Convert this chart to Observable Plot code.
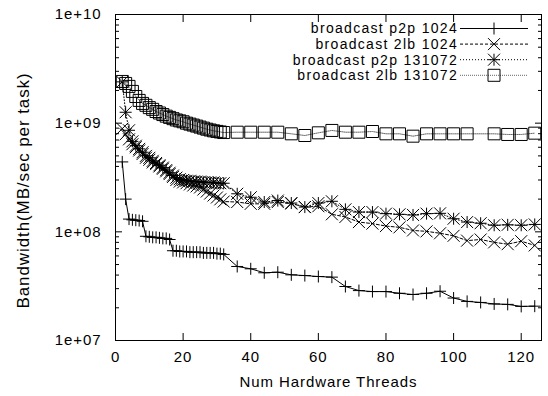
<!DOCTYPE html>
<html><head><meta charset="utf-8">
<script src="https://cdn.jsdelivr.net/npm/d3@7"></script>
<script src="https://cdn.jsdelivr.net/npm/@observablehq/plot@0.6"></script>
<style>
html,body{margin:0;padding:0;background:#fff;}
#chart{position:relative;width:548px;height:396px;}
</style></head><body><div id="chart"></div>
<script>
// ---- data ----
const threads = [2,3,4,5,6,7,8,9,10,11,12,13,14,15,16,17,18,19,20,21,22,23,24,25,26,27,28,29,30,31,32,
  36,40,44,48,52,56,60,64,68,72,76,80,84,88,92,96,100,104,108,112,116,120,124];
const p2p1024 = [4.4e8,2.0e8,1.31e8,1.29e8,1.28e8,1.27e8,1.25e8,9.1e7,9.0e7,8.9e7,8.9e7,8.8e7,8.7e7,8.7e7,8.5e7,6.7e7,6.7e7,6.6e7,6.6e7,6.6e7,6.5e7,6.5e7,6.5e7,6.5e7,6.4e7,6.4e7,6.4e7,6.4e7,6.3e7,6.3e7,6.2e7,
  4.8e7,4.57e7,4.2e7,4.25e7,4.02e7,3.96e7,3.88e7,3.83e7,3.14e7,2.88e7,2.82e7,2.82e7,2.72e7,2.65e7,2.72e7,2.84e7,2.46e7,2.29e7,2.24e7,2.17e7,2.15e7,2.06e7,2.07e7];
const lb1024 = [8.9e8,7.9e8,7.1e8,6.4e8,6.0e8,5.6e8,5.2e8,4.8e8,4.6e8,4.35e8,4.2e8,4.0e8,3.8e8,3.6e8,3.4e8,3.2e8,3.0e8,2.9e8,2.85e8,2.8e8,2.73e8,2.67e8,2.62e8,2.56e8,2.45e8,2.35e8,2.25e8,2.16e8,2.07e8,1.99e8,1.9e8,
  1.88e8,1.81e8,1.81e8,1.88e8,1.82e8,1.69e8,1.72e8,1.45e8,1.37e8,1.23e8,1.19e8,1.13e8,1.10e8,1.03e8,1.01e8,9.7e7,9.2e7,8.3e7,8.5e7,8.0e7,7.7e7,8.2e7,7.5e7];
const p2p131072 = [2.4e9,1.26e9,8.6e8,6.8e8,6.2e8,5.8e8,5.4e8,5.0e8,4.8e8,4.5e8,4.3e8,4.1e8,3.9e8,3.7e8,3.5e8,3.3e8,3.15e8,3.05e8,3.0e8,2.95e8,2.95e8,2.9e8,2.9e8,2.9e8,2.85e8,2.85e8,2.85e8,2.85e8,2.8e8,2.8e8,2.8e8,
  2.24e8,2.08e8,1.88e8,1.94e8,1.84e8,1.69e8,1.84e8,1.91e8,1.61e8,1.52e8,1.52e8,1.47e8,1.45e8,1.43e8,1.47e8,1.48e8,1.32e8,1.23e8,1.20e8,1.15e8,1.16e8,1.15e8,1.17e8];
const lb131072 = [2.42e9,2.32e9,2.18e9,1.96e9,1.76e9,1.62e9,1.52e9,1.46e9,1.39e9,1.34e9,1.28e9,1.24e9,1.20e9,1.16e9,1.13e9,1.10e9,1.07e9,1.05e9,1.03e9,1.0e9,9.8e8,9.6e8,9.4e8,9.2e8,9.0e8,8.8e8,8.65e8,8.5e8,8.4e8,8.3e8,8.2e8,
  8.26e8,8.26e8,8.26e8,8.26e8,7.98e8,7.70e8,8.15e8,8.57e8,8.26e8,8.26e8,8.38e8,7.98e8,7.98e8,7.59e8,7.98e8,7.98e8,7.98e8,7.98e8,null,7.98e8,7.87e8,7.87e8,8.09e8];
const seriesNames = ["broadcast p2p 1024","broadcast 2lb 1024","broadcast p2p 131072","broadcast 2lb 131072"];
const xTicks = [0,20,40,60,80,100,120];
const yTicks = [1e7,1e8,1e9,1e10];
const yTickLabels = ["1e+07","1e+08","1e+09","1e+10"];
const xTitle = "Num Hardware Threads";
const yTitle = "Bandwidth(MB/sec per task)";

// ---- styles ----
const S = 6;
const symPlus = {draw(c){c.moveTo(-S,0);c.lineTo(S,0);c.moveTo(0,-S);c.lineTo(0,S);}};
const symTimes = {draw(c){c.moveTo(-S,-S);c.lineTo(S,S);c.moveTo(-S,S);c.lineTo(S,-S);}};
const symStar = {draw(c){c.moveTo(-S,0);c.lineTo(S,0);c.moveTo(0,-S);c.lineTo(0,S);c.moveTo(-S,-S);c.lineTo(S,S);c.moveTo(-S,S);c.lineTo(S,-S);}};
const symSquare = {draw(c){c.rect(-S,-S,2*S,2*S);}};
const symbols = [symPlus, symTimes, symStar, symSquare];
const dashes = [null, "3,2", "1,2", "1,1"];
const lineColors = ["#000","#000","#000","#666"];

const allValues = [p2p1024, lb1024, p2p131072, lb131072];
const series = allValues.map((vals) =>
  threads.map((t, i) => ({x: t, y: vals[i]})).filter(d => d.y != null));

const yMinor = [];
for (let e = 7; e < 10; e++) for (let m = 2; m <= 9; m++) yMinor.push(m * Math.pow(10, e));

const font = '"Liberation Sans", Arial, sans-serif';
const marks = [
  Plot.axisX(xTicks, {anchor:"bottom", tickSize:7, dy:-7, fill:"none", label:null}),
  Plot.axisX(xTicks, {anchor:"top", tickSize:7, dy:7, fill:"none", label:null}),
  Plot.axisY(yTicks, {anchor:"left", tickSize:7, dx:7, fill:"none", label:null}),
  Plot.axisY(yTicks, {anchor:"right", tickSize:7, dx:-7, fill:"none", label:null}),
  Plot.axisY(yMinor, {anchor:"left", tickSize:4, dx:4, fill:"none", label:null}),
  Plot.axisY(yMinor, {anchor:"right", tickSize:4, dx:-4, fill:"none", label:null}),
  Plot.axisX(xTicks, {anchor:"bottom", tickSize:0, tickPadding:11, label:null, tickFormat: d => String(d)}),
  Plot.axisY(yTicks, {anchor:"left", tickSize:0, tickPadding:14, label:null, tickFormat: d => yTickLabels[yTicks.indexOf(d)]}),
  Plot.text([xTitle], {text: d => d, frameAnchor:"bottom", dy:46}),
  Plot.text([yTitle], {text: d => d, frameAnchor:"left", textAnchor:"middle", dx:-92, dy:13, rotate:-90, fontSize:17}),
];
series.forEach((rows, k) => {
  marks.push(Plot.line(rows, {x:"x", y:"y", stroke:lineColors[k], strokeWidth:1, strokeDasharray: dashes[k]}));
  marks.push(Plot.dot(rows, {x:"x", y:"y", symbol: symbols[k], stroke:"#000", fill:"none", strokeWidth:1}));
});
marks.push(Plot.frame({stroke:"#000", strokeWidth:1}));

const chart = Plot.plot({
  width: 548, height: 396,
  marginLeft: 115, marginRight: 7, marginTop: 14, marginBottom: 56,
  style: {fontFamily: font, fontSize: "15px", letterSpacing: "0.9px", background: "#fff", color: "#000"},
  x: {domain: [0, 126]},
  y: {type: "log", domain: [1e7, 1e10]},
  marks
});
document.getElementById("chart").appendChild(chart);

// ---- key (legend) inside the frame, top right ----
const svg = d3.select(chart);
const key = svg.append("g").attr("font-family", font).attr("font-size", 14)
  .style("letter-spacing", "1.3px");
seriesNames.forEach((name, k) => {
  const y = 28.5 + 15.6 * k;
  key.append("text").attr("x", 458).attr("y", y).attr("text-anchor", "end")
     .attr("dy", "0.35em").attr("fill", "#000").text(name);
  key.append("line").attr("x1", 460).attr("x2", 528).attr("y1", y).attr("y2", y)
     .attr("stroke", lineColors[k]).attr("stroke-width", 1)
     .attr("stroke-dasharray", dashes[k]);
  const p = d3.path(); symbols[k].draw(p);
  key.append("path").attr("d", p.toString()).attr("transform", `translate(494,${y})`)
     .attr("fill", "none").attr("stroke", "#000").attr("stroke-width", 1);
});
</script></body></html>
